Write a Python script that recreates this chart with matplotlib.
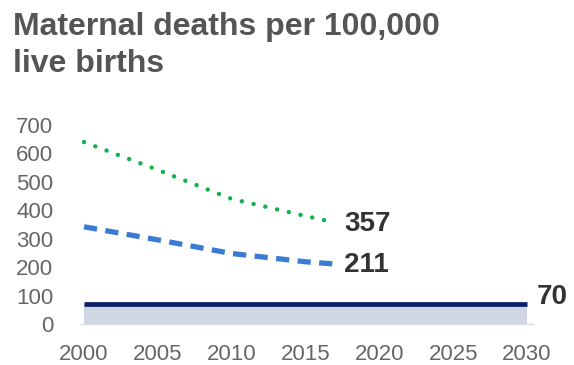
import matplotlib
matplotlib.use("Agg")
import matplotlib.pyplot as plt

# Series values
green_years = [2000, 2005, 2010, 2015, 2017]
green_values = [640, 542, 440, 380, 357]

blue_years = [2000, 2005, 2010, 2015, 2017]
blue_values = [342, 296, 248, 219, 211]

target_years = [2000, 2030]
target_values = [70, 70]

x_ticks = [2000, 2005, 2010, 2015, 2020, 2025, 2030]
y_ticks = [0, 100, 200, 300, 400, 500, 600, 700]

title = "Maternal deaths per 100,000\nlive births"

plt.rcParams["font.family"] = ["Liberation Sans", "DejaVu Sans"]

W, H = 574, 365
fig = plt.figure(figsize=(W / 100, H / 100), dpi=100)
fig.patch.set_facecolor("white")

# axes box in pixels: left 70, right 540, top 120, bottom 330
ax = fig.add_axes([70 / W, (H - 330) / H, 470 / W, 210 / H])
ax.set_xlim(1999.05, 2030.88)
ax.set_ylim(-21, 717.6)

navy = "#0b1f6b"
blue = "#3b7bd4"
green = "#13b14c"
label_col = "#333333"
tick_col = "#666666"

# target band and line
ax.fill_between(target_years, 0, target_values, color="#d0d6e4", linewidth=0, zorder=1)
ax.plot(target_years, target_values, color=navy, linewidth=3.4, solid_capstyle="butt", zorder=3)

# baseline
ax.hlines(0, 1999.75, 2030.5, color="#dddddd", linewidth=1.0, zorder=0)

ax.plot(blue_years, blue_values, color=blue, linewidth=3.8,
        linestyle=(0, (2.5, 1.6)), dash_capstyle="butt", zorder=4)
ax.plot(green_years, green_values, color=green, linewidth=3.2,
        linestyle=(0, (0.01, 2.7)), dash_capstyle="round", zorder=4)

# end labels
for yrs, vals in ((green_years, green_values), (blue_years, blue_values)):
    ax.annotate(f"{vals[-1]}", xy=(yrs[-1], vals[-1]), xytext=(6.5, -1),
                textcoords="offset points", ha="left", va="center",
                fontsize=20, fontweight="bold", color=label_col)
ax.annotate(f"{target_values[-1]}", xy=(target_years[-1], target_values[-1]),
            xytext=(7, 5), textcoords="offset points", ha="left", va="center",
            fontsize=20, fontweight="bold", color=label_col)

ax.set_xticks(x_ticks)
ax.set_xticklabels([str(v) for v in x_ticks])
ax.set_yticks(y_ticks)
ax.set_yticklabels([str(v) for v in y_ticks])
ax.tick_params(axis="both", length=0, colors=tick_col, labelsize=16)
ax.tick_params(axis="y", pad=12)
ax.tick_params(axis="x", pad=10)
for s in ax.spines.values():
    s.set_visible(False)

fig.text(13 / W, 1 - 12 / H, title, ha="left", va="top", fontsize=23,
         fontweight="bold", color="#555555", linespacing=1.3)

fig.savefig("out.png", dpi=100, facecolor="white")
